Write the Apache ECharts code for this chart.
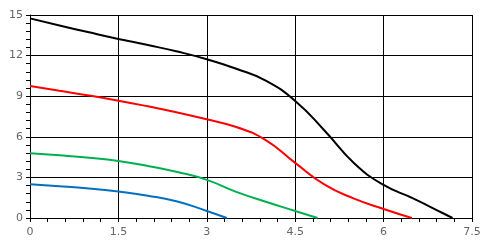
<!DOCTYPE html>
<html><head><meta charset="utf-8">
<script src="https://cdn.jsdelivr.net/npm/echarts@6/dist/echarts.min.js"></script>
<style>html,body{margin:0;padding:0;background:#fff}#c{width:487px;height:251px}</style>
</head><body><div id="c"></div>
<script>
var xTicks = [0, 1.5, 3, 4.5, 6, 7.5];
var yTicks = [0, 3, 6, 9, 12, 15];

var blackX = [0, 0.5, 1.0, 1.5, 2.0, 2.5, 3.0, 3.5, 4.0, 4.5, 5.0, 5.5, 6.0, 6.5, 7.0, 7.17];
var blackY = [14.75, 14.23, 13.72, 13.23, 12.78, 12.3, 11.73, 11.03, 10.15, 8.65, 6.45, 4.05, 2.44, 1.45, 0.37, 0];

var redX = [0, 0.5, 1.0, 1.5, 2.0, 2.5, 3.0, 3.5, 4.0, 4.5, 5.0, 5.5, 6.0, 6.48];
var redY = [9.76, 9.4, 9.05, 8.67, 8.25, 7.8, 7.29, 6.72, 5.76, 4.07, 2.46, 1.43, 0.67, 0];

var greenX = [0, 0.5, 1.0, 1.5, 2.0, 2.5, 3.0, 3.5, 4.0, 4.5, 4.88];
var greenY = [4.78, 4.63, 4.45, 4.21, 3.85, 3.4, 2.82, 1.93, 1.2, 0.52, 0];

var blueX = [0, 0.5, 1.0, 1.5, 2.0, 2.5, 3.0, 3.34];
var blueY = [2.49, 2.35, 2.18, 1.95, 1.65, 1.22, 0.52, 0];

function pairs(xs, ys){ return xs.map(function(x,i){ return [x, ys[i]]; }); }

var chart = echarts.init(document.getElementById('c'));
var lbl = {color:'#666666', fontSize:11, fontFamily:'DejaVu Sans, sans-serif'};
function mk(name, xs, ys, color){
  return {name:name, type:'line', smooth:0.5, symbol:'none', data:pairs(xs,ys),
    lineStyle:{color:color, width:2}, animation:false};
}
chart.setOption({
  animation:false,
  grid:{left:30, right:15, top:15, bottom:33, containLabel:false},
  xAxis:{type:'value', min:xTicks[0], max:xTicks[xTicks.length-1], interval:1.5,
    axisLine:{show:true, onZero:false, lineStyle:{color:'#000', width:1}},
    axisTick:{show:true, length:4, lineStyle:{color:'#000'}},
    minorTick:{show:true, splitNumber:5, length:4, lineStyle:{color:'#000'}},
    splitLine:{show:true, lineStyle:{color:'#000', width:1}},
    axisLabel:Object.assign({margin:9, formatter:function(v){return String(v);}}, lbl)},
  yAxis:{type:'value', min:yTicks[0], max:yTicks[yTicks.length-1], interval:3,
    axisLine:{show:true, onZero:false, lineStyle:{color:'#000', width:1}},
    axisTick:{show:true, length:4, lineStyle:{color:'#000'}},
    minorTick:{show:true, splitNumber:5, length:4, lineStyle:{color:'#000'}},
    splitLine:{show:true, lineStyle:{color:'#000', width:1}},
    axisLabel:Object.assign({margin:7}, lbl)},
  series:[
    mk('black', blackX, blackY, '#000000'),
    mk('red', redX, redY, '#ff0000'),
    mk('green', greenX, greenY, '#00b050'),
    mk('blue', blueX, blueY, '#0070c0')
  ]
});
</script></body></html>
